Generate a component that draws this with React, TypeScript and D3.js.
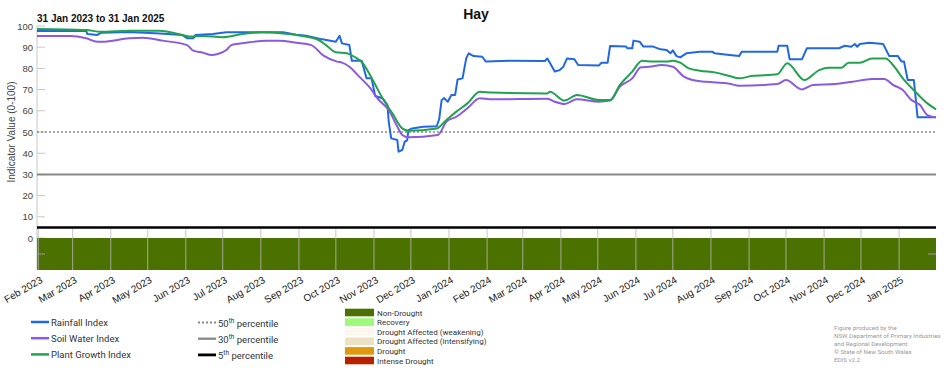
import React from 'react';
import * as d3 from 'd3';

// Indicator values (date, value 0-100)
const rainfallIndex: [string, number][] = [
  ['2023-01-31', 97.6], ['2023-03-12', 97.6], ['2023-03-13', 96.2], ['2023-03-21', 95.8],
  ['2023-03-24', 96.8], ['2023-04-16', 97.2], ['2023-05-11', 96.5], ['2023-05-29', 95.8],
  ['2023-06-02', 94.2], ['2023-06-07', 94.2], ['2023-06-09', 95.8], ['2023-06-23', 96.2],
  ['2023-07-04', 97.0], ['2023-08-19', 97.0], ['2023-08-30', 95.9], ['2023-09-07', 95.4],
  ['2023-09-20', 93.7], ['2023-10-01', 92.6], ['2023-10-04', 95.4], ['2023-10-06', 91.8],
  ['2023-10-12', 91.0], ['2023-10-14', 83.6], ['2023-10-22', 83.6], ['2023-10-26', 75.3],
  ['2023-10-30', 75.3], ['2023-11-02', 67.0], ['2023-11-08', 65.9], ['2023-11-12', 62.7],
  ['2023-11-13', 54.9], ['2023-11-15', 47.0], ['2023-11-20', 46.2], ['2023-11-21', 40.7],
  ['2023-11-24', 41.5], ['2023-11-26', 45.4], ['2023-11-28', 46.0], ['2023-11-29', 50.9],
  ['2023-12-02', 51.7], ['2023-12-11', 52.5], ['2023-12-22', 52.7], ['2023-12-24', 56.0],
  ['2023-12-26', 65.0], ['2023-12-28', 66.0], ['2023-12-31', 64.3], ['2024-01-03', 67.5],
  ['2024-01-06', 67.5], ['2024-01-08', 74.8], ['2024-01-12', 75.3], ['2024-01-15', 84.7],
  ['2024-01-17', 87.1], ['2024-01-21', 85.8], ['2024-01-28', 85.5], ['2024-01-31', 83.2],
  ['2024-02-19', 83.6], ['2024-03-19', 83.5], ['2024-03-21', 84.7], ['2024-03-23', 82.7],
  ['2024-03-27', 78.5], ['2024-03-31', 79.2], ['2024-04-03', 80.8], ['2024-04-06', 84.7],
  ['2024-04-12', 84.3], ['2024-04-15', 81.6], ['2024-05-02', 81.4], ['2024-05-04', 82.7],
  ['2024-05-09', 82.7], ['2024-05-11', 90.6], ['2024-05-24', 90.3], ['2024-05-25', 89.5],
  ['2024-05-29', 89.5], ['2024-05-30', 93.1], ['2024-06-04', 92.6], ['2024-06-07', 90.3],
  ['2024-06-15', 90.3], ['2024-06-21', 89.0], ['2024-06-26', 88.7], ['2024-06-29', 87.1],
  ['2024-07-01', 88.5], ['2024-07-04', 85.8], ['2024-07-07', 85.2], ['2024-07-12', 87.1],
  ['2024-07-23', 87.9], ['2024-08-02', 87.9], ['2024-08-04', 87.1], ['2024-08-16', 86.3],
  ['2024-08-24', 85.8], ['2024-08-26', 87.9], ['2024-09-24', 87.9], ['2024-09-25', 90.7],
  ['2024-10-02', 90.7], ['2024-10-04', 84.3], ['2024-10-14', 84.3], ['2024-10-18', 89.5],
  ['2024-11-13', 89.5], ['2024-11-18', 90.7], ['2024-11-23', 90.2], ['2024-11-26', 91.5],
  ['2024-11-28', 90.2], ['2024-11-30', 91.5], ['2024-12-08', 92.1], ['2024-12-19', 91.5],
  ['2024-12-24', 85.8], ['2024-12-31', 85.8], ['2025-01-03', 83.2], ['2025-01-05', 83.2],
  ['2025-01-08', 74.5], ['2025-01-13', 74.5], ['2025-01-16', 56.9], ['2025-01-31', 56.9],
];

const soilWaterIndex: [string, number][] = [
  ['2023-01-31', 95.3], ['2023-02-27', 95.3], ['2023-03-12', 94.2], ['2023-03-21', 92.6],
  ['2023-03-25', 92.6], ['2023-04-16', 94.2], ['2023-04-27', 94.5], ['2023-05-13', 93.1],
  ['2023-06-02', 91.0], ['2023-06-07', 88.4], ['2023-06-15', 87.4], ['2023-06-22', 86.3],
  ['2023-06-27', 86.8], ['2023-07-04', 88.7], ['2023-07-08', 91.0], ['2023-07-20', 92.1],
  ['2023-08-06', 93.1], ['2023-08-16', 93.1], ['2023-08-30', 92.1], ['2023-09-11', 91.0],
  ['2023-09-21', 86.0], ['2023-10-02', 83.2], ['2023-10-06', 82.7], ['2023-10-12', 80.8],
  ['2023-10-20', 76.1], ['2023-10-28', 71.4], ['2023-11-05', 65.1], ['2023-11-13', 60.4],
  ['2023-11-20', 52.5], ['2023-11-24', 48.6], ['2023-11-29', 47.5], ['2023-12-23', 48.6],
  ['2023-12-30', 54.9], ['2024-01-07', 57.2], ['2024-01-16', 61.2], ['2024-01-26', 65.9],
  ['2024-02-05', 65.4], ['2024-03-21', 65.7], ['2024-03-27', 64.3], ['2024-04-04', 63.2],
  ['2024-04-14', 65.4], ['2024-05-02', 64.3], ['2024-05-11', 64.8], ['2024-05-19', 71.4],
  ['2024-05-29', 75.3], ['2024-06-05', 80.5], ['2024-06-12', 80.8], ['2024-06-22', 81.6],
  ['2024-07-01', 80.8], ['2024-07-10', 76.1], ['2024-07-17', 74.5], ['2024-07-28', 73.7],
  ['2024-08-16', 72.8], ['2024-08-24', 71.8], ['2024-09-24', 72.6], ['2024-10-01', 74.5],
  ['2024-10-14', 70.1], ['2024-10-23', 72.2], ['2024-11-10', 72.6], ['2024-11-24', 73.7],
  ['2024-12-10', 75.0], ['2024-12-20', 75.0], ['2024-12-27', 72.2], ['2025-01-04', 69.8],
  ['2025-01-11', 65.1], ['2025-01-18', 62.7], ['2025-01-24', 58.0], ['2025-01-31', 56.9],
];

const plantGrowthIndex: [string, number][] = [
  ['2023-01-31', 98.6], ['2023-03-12', 98.1], ['2023-03-24', 97.3], ['2023-04-16', 97.8],
  ['2023-05-11', 97.8], ['2023-05-24', 96.5], ['2023-06-05', 95.0], ['2023-06-15', 95.3],
  ['2023-07-01', 94.7], ['2023-07-17', 96.2], ['2023-08-02', 97.0], ['2023-08-19', 96.5],
  ['2023-09-03', 95.4], ['2023-09-17', 93.4], ['2023-09-23', 91.0], ['2023-10-01', 87.6],
  ['2023-10-10', 87.1], ['2023-10-16', 85.5], ['2023-10-23', 82.4], ['2023-10-31', 74.5],
  ['2023-11-08', 65.9], ['2023-11-16', 58.8], ['2023-11-24', 51.7], ['2023-11-29', 50.6],
  ['2023-12-22', 51.7], ['2023-12-30', 55.7], ['2024-01-07', 59.6], ['2024-01-16', 63.5],
  ['2024-01-26', 69.0], ['2024-02-05', 68.6], ['2024-03-21', 68.2], ['2024-03-23', 69.0],
  ['2024-04-04', 64.8], ['2024-04-14', 67.5], ['2024-05-02', 65.1], ['2024-05-11', 65.1],
  ['2024-05-19', 72.2], ['2024-05-29', 78.5], ['2024-06-06', 83.6], ['2024-06-15', 83.2],
  ['2024-06-26', 83.2], ['2024-07-01', 83.6], ['2024-07-07', 82.7], ['2024-07-14', 80.0],
  ['2024-07-23', 78.9], ['2024-08-05', 78.0], ['2024-08-16', 76.4], ['2024-08-24', 75.3],
  ['2024-09-03', 76.4], ['2024-09-24', 77.2], ['2024-10-02', 82.4], ['2024-10-16', 74.5],
  ['2024-10-28', 79.2], ['2024-11-05', 80.3], ['2024-11-15', 80.3], ['2024-11-21', 82.7],
  ['2024-11-30', 82.7], ['2024-12-10', 84.7], ['2024-12-21', 84.7], ['2024-12-27', 81.6],
  ['2025-01-04', 75.3], ['2025-01-15', 68.5], ['2025-01-24', 63.5], ['2025-01-31', 60.7],
];

// Drought category band below the axis
const droughtPeriods: [string, string, string][] = [
  ['2023-01-31', '2025-01-31', 'Non-Drought'],
];

const droughtCategories = [
  'Non-Drought',
  'Recovery',
  'Drought Affected (weakening)',
  'Drought Affected (intensifying)',
  'Drought',
  'Intense Drought',
];

const percentileValues = [50, 30, 5];
const yTickValues = [0, 10, 20, 30, 40, 50, 60, 70, 80, 90, 100];
const seriesNames = ['Rainfall Index', 'Soil Water Index', 'Plant Growth Index'];
const creditLines = [
  'Figure produced by the',
  'NSW Department of Primary Industries',
  'and Regional Development',
  '\u00A9 State of New South Wales',
  'EDIS v2.2',
];

const categoryColor: Record<string, string> = {
  'Non-Drought': '#4b7200',
  'Recovery': '#9cfa78',
  'Drought Affected (weakening)': '#fdf8ef',
  'Drought Affected (intensifying)': '#ece2c2',
  'Drought': '#e0980c',
  'Intense Drought': '#b82100',
};
const seriesColor = ['#2268e0', '#8a5bdd', '#22a24e'];
const percentileStyle = [
  { stroke: '#888', width: 1.6, dash: '2,2' },
  { stroke: '#888', width: 2, dash: undefined },
  { stroke: '#000', width: 2.5, dash: undefined },
];

const parse = d3.utcParse('%Y-%m-%d');
const FONT = 'Liberation Sans, Arial, sans-serif';

export default function App() {
  const width = 952;
  const height = 370;
  const plotLeft = 37;
  const plotRight = 936;
  const bandTop = 238;
  const bandBottom = 270;

  const x = d3.scaleUtc()
    .domain([parse('2023-01-31')!, parse('2025-01-31')!])
    .range([plotLeft, plotRight]);
  const y = d3.scaleLinear().domain([0, 100]).range([238, 26]);

  const monthTicks = x.ticks(d3.utcMonth.every(1)!);
  const fmt = d3.utcFormat('%b %Y');

  const stepLine = d3.line<[string, number]>()
    .x(d => x(parse(d[0])!))
    .y(d => y(d[1]));
  const smoothLine = d3.line<[string, number]>()
    .x(d => x(parse(d[0])!))
    .y(d => y(d[1]))
    .curve(d3.curveMonotoneX);

  const series = [rainfallIndex, soilWaterIndex, plantGrowthIndex];

  return (
    <svg width={width} height={height} style={{ position: 'absolute', left: 0, top: 0, background: '#fff' }} fontFamily={FONT}>
      {/* titles */}
      <text x={476} y={19} textAnchor="middle" fontSize={14} fontWeight="bold" fill="#111">Hay</text>
      <text x={37} y={21.5} fontSize={10} fontWeight="bold" fill="#111">31 Jan 2023 to 31 Jan 2025</text>

      {/* y axis */}
      <line x1={plotLeft} x2={plotLeft} y1={y(100)} y2={bandBottom} stroke="#c8c8c8" />
      {yTickValues.map(v => (
        <g key={v}>
          <line x1={plotLeft} x2={plotLeft + 8} y1={y(v)} y2={y(v)} stroke="#c8c8c8" />
          <text x={33} y={y(v) + 3.5} textAnchor="end" fontSize={9.5} fill="#444">{v}</text>
        </g>
      ))}
      <text transform={`translate(15,${y(50)}) rotate(-90)`} textAnchor="middle" fontSize={10} fill="#444">
        Indicator Value (0-100)
      </text>

      {/* drought band */}
      {droughtPeriods.map(([s, e, c], i) => (
        <rect key={i} x={x(parse(s)!)} y={bandTop} width={x(parse(e)!) - x(parse(s)!)} height={bandBottom - bandTop} fill={categoryColor[c]} />
      ))}
      {monthTicks.map((t, i) => (
        <line key={i} x1={x(t)} x2={x(t)} y1={229} y2={bandBottom} stroke="#b8b8b8" strokeOpacity={0.8} />
      ))}
      <line x1={plotLeft} x2={plotLeft + 8} y1={(bandTop + bandBottom) / 2} y2={(bandTop + bandBottom) / 2} stroke="#999" />
      <line x1={plotRight - 8} x2={plotRight} y1={(bandTop + bandBottom) / 2} y2={(bandTop + bandBottom) / 2} stroke="#999" />

      {/* percentile lines */}
      {percentileValues.map((p, i) => (
        <line key={p} x1={plotLeft} x2={plotRight} y1={y(p)} y2={y(p)}
          stroke={percentileStyle[i].stroke} strokeWidth={percentileStyle[i].width} strokeDasharray={percentileStyle[i].dash} />
      ))}

      {/* indicator lines */}
      {series.map((d, i) => (
        <path key={i} d={(i === 0 ? stepLine(d) : smoothLine(d)) || ''} fill="none"
          stroke={seriesColor[i]} strokeWidth={2} strokeLinejoin="round" />
      ))}

      {/* x axis labels */}
      {monthTicks.map((t, i) => (
        <text key={i} transform={`translate(${x(t) + 5},282) rotate(-30)`} textAnchor="end" fontSize={10} fill="#222">
          {fmt(t)}
        </text>
      ))}

      {/* series legend */}
      {seriesNames.map((n, i) => (
        <g key={n} transform={`translate(31,${322 + i * 16.2})`}>
          <line x1={0} x2={18} y1={0} y2={0} stroke={seriesColor[i]} strokeWidth={2.5} />
          <text x={20} y={3.5} fontSize={9.5} fill="#333" fontFamily="Roboto, sans-serif">{n}</text>
        </g>
      ))}

      {/* percentile legend */}
      {percentileValues.map((p, i) => (
        <g key={p} transform={`translate(198,${322.5 + i * 16.2})`}>
          <line x1={0} x2={18} y1={0} y2={0} stroke={percentileStyle[i].stroke}
            strokeWidth={percentileStyle[i].width + 0.3} strokeDasharray={percentileStyle[i].dash} />
          <text x={20} y={4} fontSize={9.5} fill="#333" fontFamily="Roboto, sans-serif">
            {p}<tspan fontSize={6.5} dy={-4}>th</tspan><tspan dy={4}> percentile</tspan>
          </text>
        </g>
      ))}

      {/* drought category legend */}
      {droughtCategories.map((c, i) => (
        <g key={c} transform={`translate(345,${308.7 + i * 9.6})`}>
          <rect x={0} y={0} width={29} height={7.6} fill={categoryColor[c]} />
          <text x={32} y={6.8} fontSize={8} fill="#333" fontFamily="Roboto, sans-serif">{c}</text>
        </g>
      ))}

      {/* credits */}
      {creditLines.map((l, i) => (
        <text key={i} x={834} y={329.5 + i * 8.1} fontSize={6.2} fill="#9a9a9a" fontFamily="Roboto, sans-serif">{l}</text>
      ))}
    </svg>
  );
}
